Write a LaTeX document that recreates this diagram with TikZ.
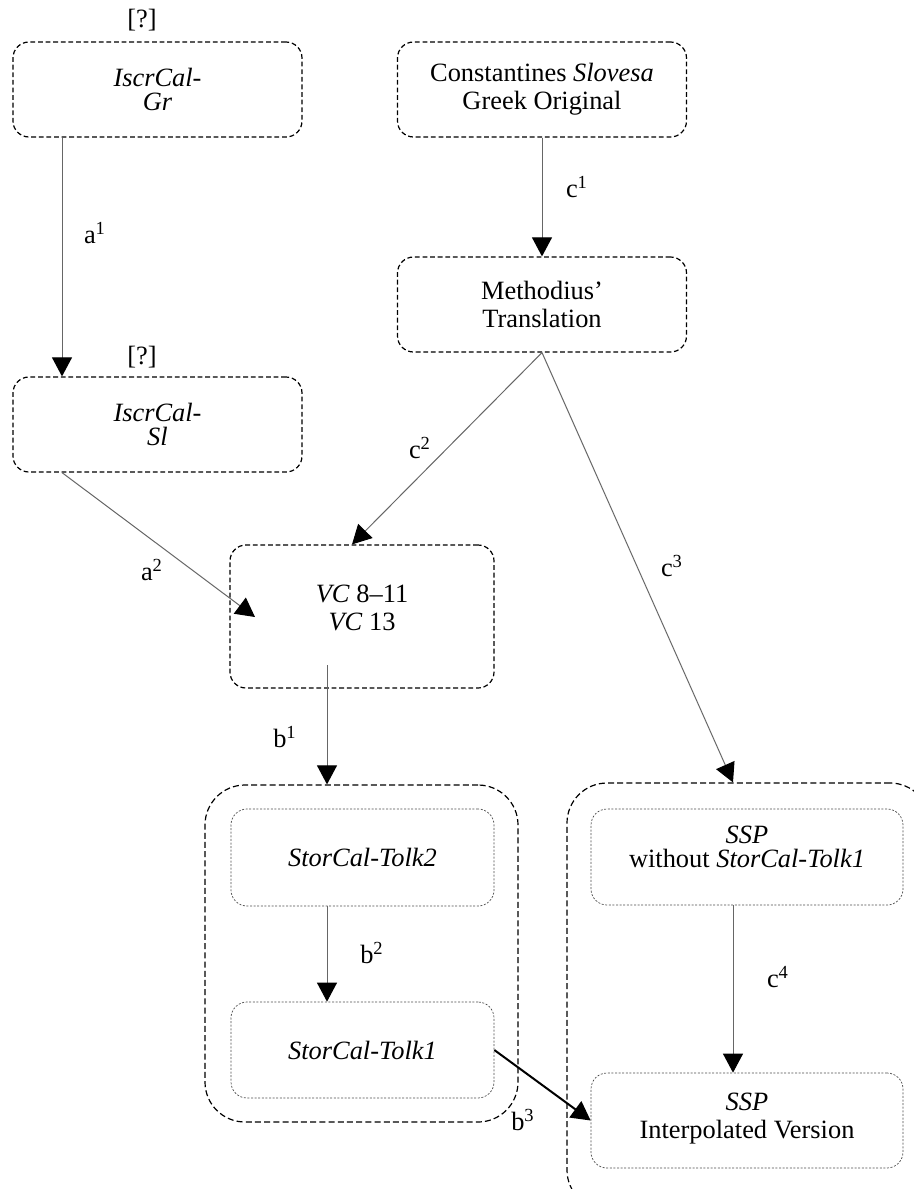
\documentclass[tikz,border=0pt]{standalone}
\usepackage{fontspec}
\setmainfont{Liberation Serif}
\usetikzlibrary{arrows.meta}
\begin{document}
\begin{tikzpicture}[x=0.5pt,y=-0.5pt,
  every node/.style={font=\fontsize{13.2pt}{14pt}\selectfont, inner sep=0pt},
  tight/.style={font=\fontsize{13.2pt}{12pt}\selectfont},
  obox/.style={draw, line width=0.6pt, dash pattern=on 2.4pt off 1.4pt, rounded corners=8pt, align=center},
  bigbox/.style={draw, line width=0.6pt, dash pattern=on 3pt off 1.6pt, rounded corners=20pt},
  ibox/.style={draw=black!70, line width=0.35pt, dash pattern=on 1pt off 0.8pt, rounded corners=8pt, align=center},
  conn/.style={draw=black!60, line width=0.5pt, -{Triangle[width=10pt,length=9.5pt,color=black]}},
  boldconn/.style={draw=black, line width=1pt, -{Triangle[width=10pt,length=9.5pt,color=black]}}]
\useasboundingbox (0,0) rectangle (914,1189);

% outer boxes
\node[obox, tight, minimum width=144.5pt, minimum height=47.5pt] (gr) at (157.5,89.5) {\textit{IscrCal-}\\\textit{Gr}};
\node[obox, minimum width=144.5pt, minimum height=47.5pt] (con) at (542,89.5) {Constantines \textit{Slovesa}\\Greek Original};
\node[obox, minimum width=144.5pt, minimum height=47.5pt] (meth) at (542,304.5) {Methodius’\\Translation};
\node[obox, tight, minimum width=144.5pt, minimum height=47.5pt] (sl) at (157.5,424.5) {\textit{IscrCal-}\\\textit{Sl}};
\node[obox, text depth=9pt, minimum width=132pt, minimum height=71.5pt] (vc) at (362,616.5) {\textit{VC} 8–11\\\textit{VC} 13};

% clusters
\node[bigbox, minimum width=156.5pt, minimum height=168.5pt] (lbig) at (361.5,953.5) {};
\node[bigbox, minimum width=181.5pt, minimum height=213.5pt] (rbig) at (748.5,996.5) {};

% inner boxes
\node[ibox, minimum width=131.5pt, minimum height=48.5pt] (tolk2) at (362.5,857.5) {\textit{StorCal-Tolk2}};
\node[ibox, minimum width=131.5pt, minimum height=48pt] (tolk1) at (362.5,1050) {\textit{StorCal-Tolk1}};
\node[ibox, tight, text depth=10pt, minimum width=156pt, minimum height=48pt] (ssp1) at (747,857) {\textit{SSP}\\without \textit{StorCal-Tolk1}};
\node[ibox, text depth=5pt, minimum width=156pt, minimum height=47.5pt] (ssp2) at (747,1120.5) {\textit{SSP}\\Interpolated Version};

% uncertainty marks
\node (q1) at (142,20) {[?]};
\node (q2) at (142,357) {[?]};

% helper coordinates
\coordinate (x62) at (62,0);
\coordinate (x327) at (327,0);
\coordinate (x352) at (352,0);
\coordinate (x733) at (733,0);
\coordinate (a2end) at (255,617);
\coordinate (b1start) at (327,665);

% connectors
\draw[conn] (gr.south -| x62) -- (sl.north -| x62);
\draw[conn] (con.south) -- (meth.north);
\draw[conn] (meth.south) -- (vc.north -| x352);
\draw[conn] (meth.south) -- (rbig.north -| x733);
\draw[conn] (sl.south -| x62) -- (a2end);
\draw[conn] (b1start) -- (lbig.north -| x327);
\draw[conn] (tolk2.south -| x327) -- (tolk1.north -| x327);
\draw[boldconn] (tolk1.east) -- (ssp2.west);
\draw[conn] (ssp1.south -| x733) -- (ssp2.north -| x733);

% connector labels
\node (la1) at (95,233) {a\textsuperscript{1}};
\node (lc1) at (577,187) {c\textsuperscript{1}};
\node (lc2) at (420,448) {c\textsuperscript{2}};
\node (lc3) at (672,566) {c\textsuperscript{3}};
\node (la2) at (152,570) {a\textsuperscript{2}};
\node (lb1) at (285,737) {b\textsuperscript{1}};
\node (lb2) at (372,953) {b\textsuperscript{2}};
\node (lc4) at (778,977) {c\textsuperscript{4}};
\node (lb3) at (523,1120) {b\textsuperscript{3}};
\end{tikzpicture}
\end{document}
